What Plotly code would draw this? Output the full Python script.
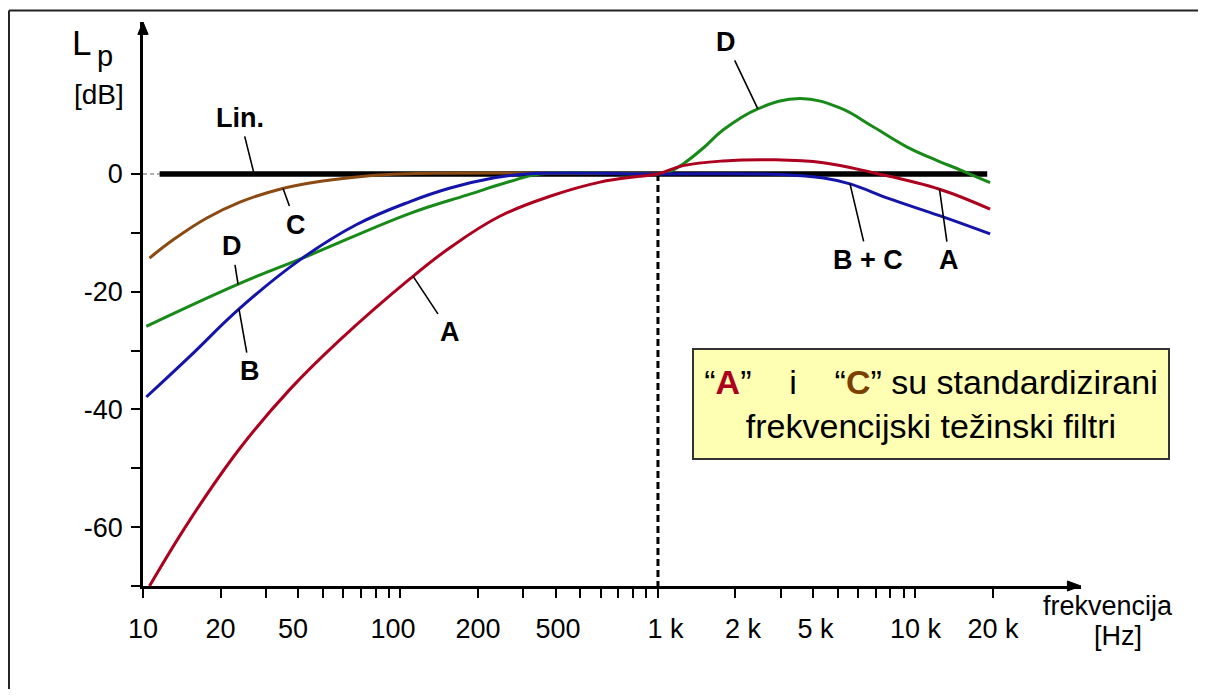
import numpy as np
import plotly.graph_objects as go

# ---------------- data ----------------
lin_freq = [11.6, 19000]
lin_db = [0.0, 0.0]

a_freq = [10.6, 15.2, 23.8, 37.2, 58.2, 109, 156, 243, 381, 596, 851, 1000,
          1253, 1794, 2800, 4385, 6850, 12400, 19500]
a_db = [-70.0, -58.8, -46.6, -36.6, -28.2, -17.8, -12.5, -7.2, -3.8, -1.4, -0.4, 0.0,
        1.4, 2.2, 2.4, 1.9, 0.2, -2.6, -6.0]

b_freq = [10.3, 15.2, 23.8, 40.7, 67.6, 109, 156, 229, 309, 1000, 3000, 4400,
          5570, 7900, 12400, 19500]
b_db = [-37.9, -31.0, -22.8, -14.6, -8.6, -4.7, -2.4, -0.7, 0.0, 0.0, -0.1, -0.7,
        -1.7, -4.2, -7.1, -10.2]

c_freq = [10.6, 13.1, 17.7, 23.8, 34, 50, 74, 100, 1000]
c_db = [-14.3, -11.2, -7.5, -4.8, -2.6, -1.2, -0.35, 0.0, 0.0]

d_freq = [10.3, 23.8, 43.3, 109, 181, 266, 348, 1000, 1100, 1253, 1500, 1794, 2455,
          3560, 5090, 6850, 9250, 12400, 14900, 19500]
d_db = [-25.9, -18.6, -14.0, -6.7, -3.6, -1.3, 0.0, 0.0, 0.3, 1.7, 4.4, 7.5, 11.1,
        12.8, 11.2, 8.0, 4.6, 2.1, 0.7, -1.5]

x_tick_vals = [10, 20, 30, 40, 50, 60, 70, 80, 90,
               100, 200, 300, 400, 500, 600, 700, 800, 900,
               1000, 2000, 3000, 4000, 5000, 6000, 7000, 8000, 9000,
               10000, 20000]
NB = "\u00a0"
# labels as typeset in the reference (some sit slightly off their tick)
x_tick_labels = {10: "10", 20: "20", 50: "50" + NB * 8, 100: "100" + NB * 2,
                 200: "200", 500: "500" + NB * 6,
                 1000: NB * 2 + "1 k", 2000: NB * 2 + "2 k", 5000: "5 k" + NB * 6,
                 10000: "10 k", 20000: "20 k"}
y_tick_vals = [-70, -60, -50, -40, -30, -20, -10, 0]
y_tick_labels = {0: "0", -20: "-20", -40: "-40", -60: "-60"}

ref_freq = 1000          # frequency of the dashed reference line
x_min_freq = 10
y_min, y_max = -70, 25.8

# ---------------- styles ----------------
FONT = "Arial, 'Liberation Sans', sans-serif"
COL_A = "#ad001f"
COL_B = "#1414aa"
COL_C = "#8a4a12"
COL_D = "#178a17"
COL_C_TXT = "#7b3f00"
SMOOTH = 1.15
LW = 3

fig = go.Figure()

# dashed reference line at 1 kHz
fig.add_trace(go.Scatter(x=[ref_freq, ref_freq], y=[0, y_min], mode="lines",
                         line=dict(color="black", width=3, dash="7px,4px"),
                         hoverinfo="skip"))
# light grey stub at 0 dB between the axis and the Lin. line
fig.add_trace(go.Scatter(x=[x_min_freq, lin_freq[0]], y=[0, 0], mode="lines",
                         line=dict(color="#b0b0b0", width=2, dash="4px,3px"),
                         hoverinfo="skip"))
fig.add_trace(go.Scatter(x=lin_freq, y=lin_db, mode="lines", name="Lin.",
                         line=dict(color="black", width=5.5)))
fig.add_trace(go.Scatter(x=c_freq, y=c_db, mode="lines", name="C",
                         line=dict(color=COL_C, width=LW, shape="spline", smoothing=SMOOTH)))
fig.add_trace(go.Scatter(x=d_freq, y=d_db, mode="lines", name="D",
                         line=dict(color=COL_D, width=LW, shape="spline", smoothing=SMOOTH)))
fig.add_trace(go.Scatter(x=b_freq, y=b_db, mode="lines", name="B",
                         line=dict(color=COL_B, width=LW, shape="spline", smoothing=SMOOTH)))
fig.add_trace(go.Scatter(x=a_freq, y=a_db, mode="lines", name="A",
                         line=dict(color=COL_A, width=LW, shape="spline", smoothing=SMOOTH)))


def on_curve(freq, fx, fy):
    return float(np.interp(np.log10(freq), np.log10(fx), fy))


annotations = []
# curve labels with leader lines: (text, anchor freq, curve x, curve y, ax, ay)
curve_labels = [
    ("Lin.", 27, lin_freq, lin_db, -14, -56),
    ("C", 35, c_freq, c_db, 13, 36),
    ("D", 23.4, d_freq, d_db, -6, -38),
    ("B", 23.6, b_freq, b_db, 11, 62),
    ("A", 112, a_freq, a_db, 37, 56),
    ("D", 2443, d_freq, d_db, -32, -67),
    ("B + C", 5570, b_freq, b_db, 18, 76),
    ("A", 12400, a_freq, a_db, 10, 71),
]
for txt, f, fx, fy, ax, ay in curve_labels:
    annotations.append(dict(
        x=np.log10(f), y=on_curve(f, fx, fy), xref="x", yref="y",
        text="<b>" + txt + "</b>", showarrow=True, arrowhead=0, arrowwidth=1.6,
        arrowcolor="black", ax=ax, ay=ay, borderpad=3,
        font=dict(family=FONT, size=27, color="black")))

# axis titles (L with subscript p, unit)
annotations.append(dict(x=-0.077, y=0.963, xref="paper", yref="paper",
                        text="L", showarrow=False, xanchor="left", yanchor="middle",
                        borderpad=0,
                        font=dict(family=FONT, size=35, color="black")))
annotations.append(dict(x=-0.0505, y=0.940, xref="paper", yref="paper",
                        text="p", showarrow=False, xanchor="left", yanchor="middle",
                        borderpad=0,
                        font=dict(family=FONT, size=29, color="black")))
annotations.append(dict(x=-0.047, y=0.872, xref="paper", yref="paper",
                        text="[dB]", showarrow=False, xanchor="center", yanchor="middle",
                        font=dict(family=FONT, size=28, color="black")))
annotations.append(dict(x=1.029, y=-0.036, xref="paper", yref="paper",
                        text="frekvencija", showarrow=False, xanchor="center", yanchor="middle",
                        font=dict(family=FONT, size=27, color="black")))
annotations.append(dict(x=1.039, y=-0.088, xref="paper", yref="paper",
                        text="[Hz]", showarrow=False, xanchor="center", yanchor="middle",
                        font=dict(family=FONT, size=27, color="black")))

# explanatory box
box_text = ("“<b><span style='color:" + COL_A + "'>A</span></b>”" + NB * 4 + "i" + NB * 4 +
            "“<b><span style='color:" + COL_C_TXT + "'>C</span></b>” su standardizirani<br>"
            "frekvencijski težinski filtri")
annotations.append(dict(x=0.840, y=0.3227, xref="paper", yref="paper", text=box_text,
                        showarrow=False, xanchor="center", yanchor="middle",
                        width=470, height=104, align="center",
                        bgcolor="#ffffb4", bordercolor="#333333", borderwidth=2, borderpad=2,
                        font=dict(family=FONT, size=34, color="black")))

shapes = [
    # picture frame (top and left edges)
    dict(type="line", xref="paper", yref="paper", x0=-0.1429, x1=1.14, y0=1.0204, y1=1.0204,
         line=dict(color="#222222", width=2)),
    dict(type="line", xref="paper", yref="paper", x0=-0.1429, x1=-0.1429, y0=1.0204, y1=-0.2,
         line=dict(color="#222222", width=2)),
    # axis arrow heads
    dict(type="path", xref="paper", yref="paper",
         path="M 1.0,0 L 0.9855,0.0089 L 0.9855,-0.0089 Z",
         fillcolor="black", line=dict(color="black", width=1)),
    dict(type="path", xref="paper", yref="paper",
         path="M 0,1.0 L 0.0055,0.978 L -0.0055,0.978 Z",
         fillcolor="black", line=dict(color="black", width=1)),
]

# the page body adds an 8 px margin, so the figure is 16 px smaller than the window
fig.update_layout(
    width=1190, height=681,
    margin=dict(l=135, r=117, t=14, b=103),
    paper_bgcolor="white", plot_bgcolor="white",
    showlegend=False,
    font=dict(family=FONT, color="black", size=27),
    annotations=annotations,
    shapes=shapes,
    xaxis=dict(type="log", range=[1, 4.643], showline=True, linecolor="black", linewidth=2.5,
               ticks="outside", ticklen=9, tickwidth=2, tickcolor="black",
               tickvals=x_tick_vals,
               ticktext=[x_tick_labels.get(v, "") for v in x_tick_vals],
               tickfont=dict(family=FONT, size=27, color="black"),
               ticklabelstandoff=8,
               showgrid=False, zeroline=False, automargin=False, fixedrange=True),
    yaxis=dict(range=[y_min, y_max], showline=True, linecolor="black", linewidth=2.5,
               ticks="outside", ticklen=9, tickwidth=2, tickcolor="black",
               tickvals=y_tick_vals,
               ticktext=[y_tick_labels.get(v, "") for v in y_tick_vals],
               tickfont=dict(family=FONT, size=27, color="black"),
               ticklabelstandoff=3,
               showgrid=False, zeroline=False, automargin=False, fixedrange=True),
)

fig.write_html("out.html")
